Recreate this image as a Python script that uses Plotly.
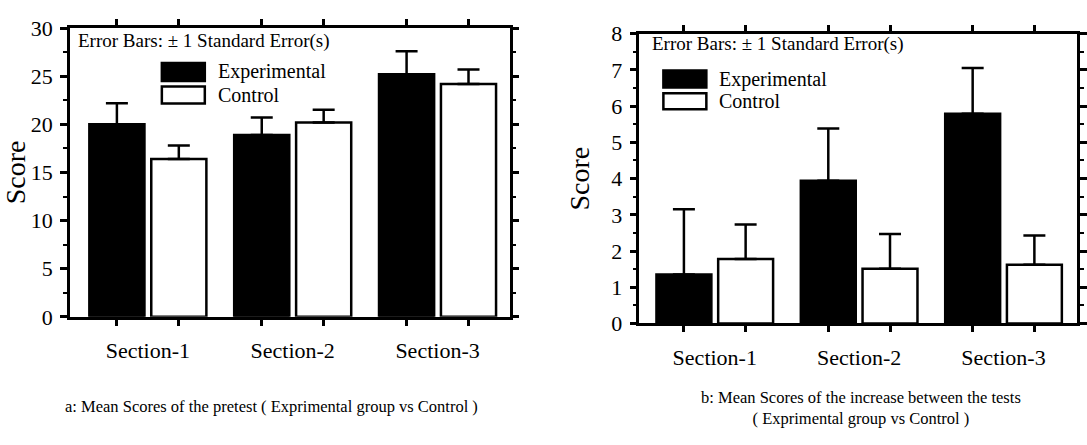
import plotly.graph_objects as go

# ---- data -------------------------------------------------------------
sections = ["Section-1", "Section-2", "Section-3"]

pre_exp = [20.0, 18.9, 25.2]
pre_exp_se = [2.2, 1.8, 2.4]
pre_ctl = [16.4, 20.2, 24.2]
pre_ctl_se = [1.4, 1.3, 1.5]

inc_exp = [1.35, 3.94, 5.79]
inc_exp_se = [1.8, 1.44, 1.26]
inc_ctl = [1.78, 1.51, 1.62]
inc_ctl_se = [0.95, 0.96, 0.81]

series_names = ["Experimental", "Control"]
caption_a = "a: Mean Scores of the pretest ( Exprimental group vs Control )"
caption_b = "b: Mean Scores of the increase between the tests<br>( Exprimental group vs Control )"
err_note = "Error Bars: \u00b1 1 Standard Error(s)"

# ---- styling ----------------------------------------------------------
FONT = "Liberation Serif"
W, H = 1087, 445
pos = [0, 1, 2]
half = 0.21375  # centre offset of each bar inside its group
bar_centres = [p + s * half for p in pos for s in (-1, 1)]

fig = go.Figure()


def add_pair(exp, exp_se, ctl, ctl_se, xa, ya):
    for vals, se, fill in ((exp, exp_se, "black"), (ctl, ctl_se, "white")):
        fig.add_trace(go.Bar(
            x=pos, y=vals, xaxis=xa, yaxis=ya,
            marker=dict(color=fill, line=dict(color="black", width=2.5)),
            error_y=dict(type="data", symmetric=False, array=se,
                         arrayminus=[0] * len(se), color="black",
                         thickness=2.5, width=11),
            showlegend=False,
        ))


add_pair(pre_exp, pre_exp_se, pre_ctl, pre_ctl_se, "x", "y")
add_pair(inc_exp, inc_exp_se, inc_ctl, inc_ctl_se, "x2", "y2")

# plot areas in pixels: (left, right, top, bottom)
areas = [(70, 510, 17, 323), (640, 1078, 23, 330)]
doms = [([l / W, r / W], [1 - b / H, 1 - t / H]) for l, r, t, b in areas]

xcommon = dict(
    tickvals=pos, ticktext=sections, ticks="", showline=True, linecolor="black",
    linewidth=2.5, mirror="ticks", showgrid=False, zeroline=False,
    tickfont=dict(family=FONT, size=22, color="black"),
    minor=dict(tickvals=bar_centres, ticks="outside", ticklen=6,
               tickwidth=2.5, tickcolor="black", showgrid=False),
    ticklabelstandoff=12,
)
ycommon = dict(
    ticks="outside", ticklen=7, tickwidth=2.5, tickcolor="black",
    showline=True, linecolor="black", linewidth=2.5, mirror="ticks",
    showgrid=False, zeroline=False, ticklabelstandoff=3,
    tickfont=dict(family=FONT, size=22, color="black"),
    title=dict(text="Score", font=dict(family=FONT, size=28, color="black")),
)

fig.update_layout(
    width=W, height=H, margin=dict(l=0, r=0, t=0, b=0),
    paper_bgcolor="white", plot_bgcolor="white",
    barmode="group", bargap=0.145, bargroupgap=0.11,
    xaxis=dict(domain=doms[0][0], anchor="y", range=[-0.538, 2.497], **xcommon),
    yaxis=dict(domain=doms[0][1], anchor="x", range=[0, 30], dtick=5,
               minor=dict(dtick=2.5, ticks="outside", ticklen=4, tickwidth=2,
                          tickcolor="black", showgrid=False),
               title_standoff=2, **ycommon),
    xaxis2=dict(domain=doms[1][0], anchor="y2", range=[-0.522, 2.509], **xcommon),
    yaxis2=dict(domain=doms[1][1], anchor="x2", range=[0, 8], dtick=1,
                minor=dict(dtick=0.5, ticks="outside", ticklen=4, tickwidth=2,
                           tickcolor="black", showgrid=False),
                title_standoff=14, **ycommon),
)

# ---- in-plot legend boxes and notes -----------------------------------
def legend_block(xa, ya, note_xy, box_x, box_y):
    xd, yd = f"{xa} domain", f"{ya} domain"
    fig.add_annotation(xref=xd, yref=yd, x=note_xy[0], y=note_xy[1],
                       text=err_note, showarrow=False, xanchor="left",
                       yanchor="middle",
                       font=dict(family=FONT, size=19, color="black"))
    for (y0, y1), fill, name in zip(box_y, ("black", "white"), series_names):
        fig.add_shape(type="rect", xref=xd, yref=yd, x0=box_x[0], x1=box_x[1],
                      y0=y0, y1=y1, fillcolor=fill,
                      line=dict(color="black", width=2.5))
        fig.add_annotation(xref=xd, yref=yd, x=box_x[2], y=(y0 + y1) / 2,
                           text=name, showarrow=False, xanchor="left",
                           yanchor="middle",
                           font=dict(family=FONT, size=20, color="black"))


def px_to_dom(area, px, py):
    l, r, t, b = area
    return (px - l) / (r - l), (b - py) / (b - t)


for (xa, ya), area, note, bx, by1, by2 in (
    (("x", "y"), areas[0], (76, 31), (162, 205, 216), (54, 73), (79, 97)),
    (("x2", "y2"), areas[1], (651, 34), (664, 707, 718), (62, 80), (86, 103)),
):
    nx, ny = px_to_dom(area, *note)
    x0, _ = px_to_dom(area, bx[0], 0)
    x1, _ = px_to_dom(area, bx[1], 0)
    xt, _ = px_to_dom(area, bx[2], 0)
    ys = [tuple(sorted((px_to_dom(area, 0, by[0])[1], px_to_dom(area, 0, by[1])[1])))
          for by in (by1, by2)]
    legend_block(xa, ya, (nx, ny), (x0, x1, xt), ys)

# ---- captions ---------------------------------------------------------
fig.add_annotation(xref="paper", yref="paper", x=272 / W, y=1 - 418 / H,
                   text=caption_a, showarrow=False, xanchor="center",
                   yanchor="middle", font=dict(family=FONT, size=16.5, color="black"))
fig.add_annotation(xref="paper", yref="paper", x=862 / W, y=1 - 420 / H,
                   text=caption_b, showarrow=False, xanchor="center",
                   yanchor="middle", align="center",
                   font=dict(family=FONT, size=16.5, color="black"))

fig.write_html("out.html")
